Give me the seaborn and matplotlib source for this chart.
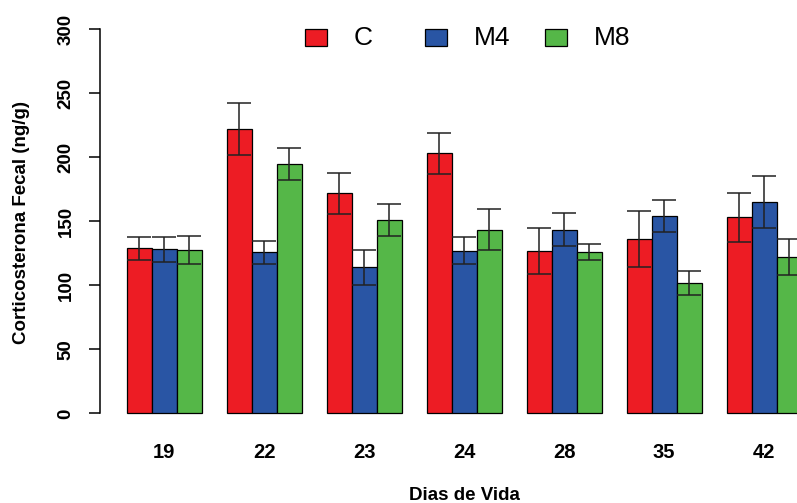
import numpy as np
import pandas as pd
import matplotlib
matplotlib.use("Agg")
import matplotlib.pyplot as plt
from matplotlib.patches import Rectangle
import seaborn as sns

# Fecal corticosterone by day of life and group (mean and standard error)
dias = ["19", "22", "23", "24", "28", "35", "42"]
grupos = ["C", "M4", "M8"]
media_c = [129, 222, 172, 203, 127, 136, 153]
media_m4 = [128, 126, 114, 127, 143.5, 154, 165]
media_m8 = [127.5, 195, 151, 143.5, 126, 102, 122]
ep_c = [9, 20.5, 16, 16, 18, 22, 19]
ep_m4 = [10, 9, 13.5, 10.5, 12.8, 12.3, 20.5]
ep_m8 = [11, 12.5, 12.5, 15.8, 6.5, 9.5, 14]
cores = ["#ED1C24", "#2955A4", "#55B748"]

medias = [media_c, media_m4, media_m8]
erros = [ep_c, ep_m4, ep_m8]

df = pd.DataFrame({
    "dia": np.repeat([dias], 3, axis=0).ravel(),
    "grupo": np.repeat(grupos, len(dias)),
    "cort": np.concatenate(medias),
})

sns.set_theme(style="white")
plt.rcParams["font.family"] = ["Liberation Sans", "DejaVu Sans"]
plt.rcParams.update({"text.color": "black", "axes.labelcolor": "black",
                     "xtick.color": "black", "ytick.color": "black"})

W, H = 797, 503
fig = plt.figure(figsize=(W / 100, H / 100), dpi=100)
# plot region runs past the right edge of the figure
left_px, right_px = 99.7, 828.7
bot_px, top_px = 428.7, 13.9
ax = fig.add_axes([left_px / W, (H - bot_px) / H,
                   (right_px - left_px) / W, (bot_px - top_px) / H])

sns.barplot(data=df, x="dia", y="cort", hue="grupo", order=dias,
            hue_order=grupos, palette=cores, width=0.75, saturation=1,
            errorbar=None, edgecolor="black", linewidth=0.9,
            legend=False, ax=ax)

for cont, med, se in zip(ax.containers, medias, erros):
    xs = [p.get_x() + p.get_width() / 2 for p in cont.patches]
    ax.errorbar(xs, med, yerr=se, fmt="none", ecolor="#222222",
                elinewidth=1.1, capsize=8.8, capthick=1.1, zorder=5)

ax.set_xlim(-0.643, 6.647)
ax.set_ylim(-12, 312)
ax.set_yticks(np.arange(0, 301, 50))
for s in ["top", "right", "bottom"]:
    ax.spines[s].set_visible(False)
ax.spines["left"].set_bounds(0, 300)
ax.spines["left"].set_linewidth(1.1)
ax.spines["left"].set_color("black")

ax.tick_params(axis="y", length=8, width=1.1, color="black", pad=10,
               labelsize=13.5, direction="out", left=True,
               labelcolor="black")
ax.tick_params(axis="x", length=0, pad=10, labelsize=14.5,
               labelcolor="black")
for lab in ax.get_yticklabels():
    lab.set_rotation(90)
    lab.set_va("center")
    lab.set_fontweight("bold")
for lab in ax.get_xticklabels():
    lab.set_fontweight("bold")

ax.set_xlabel("")
ax.set_ylabel("")
fig.text(21.7 / W, (H - 222) / H, "Corticosterona Fecal (ng/g)",
         rotation=90, ha="center", va="center", fontsize=13.5,
         fontweight="bold", color="black")
fig.text(464 / W, (H - 495) / H, "Dias de Vida", ha="center",
         va="center", fontsize=13.5, fontweight="bold", color="black")

# legend across the top
for k, (g, c) in enumerate(zip(grupos, cores)):
    x0 = 305 + 120 * k
    fig.patches.append(Rectangle((x0 / W, (H - 46) / H), 21.7 / W, 16.7 / H,
                                 transform=fig.transFigure, facecolor=c,
                                 edgecolor="black", linewidth=0.9))
    fig.text((x0 + 49) / W, (H - 37.7) / H, g, ha="left", va="center",
             fontsize=19, color="black")

fig.savefig("out.png", dpi=100)
